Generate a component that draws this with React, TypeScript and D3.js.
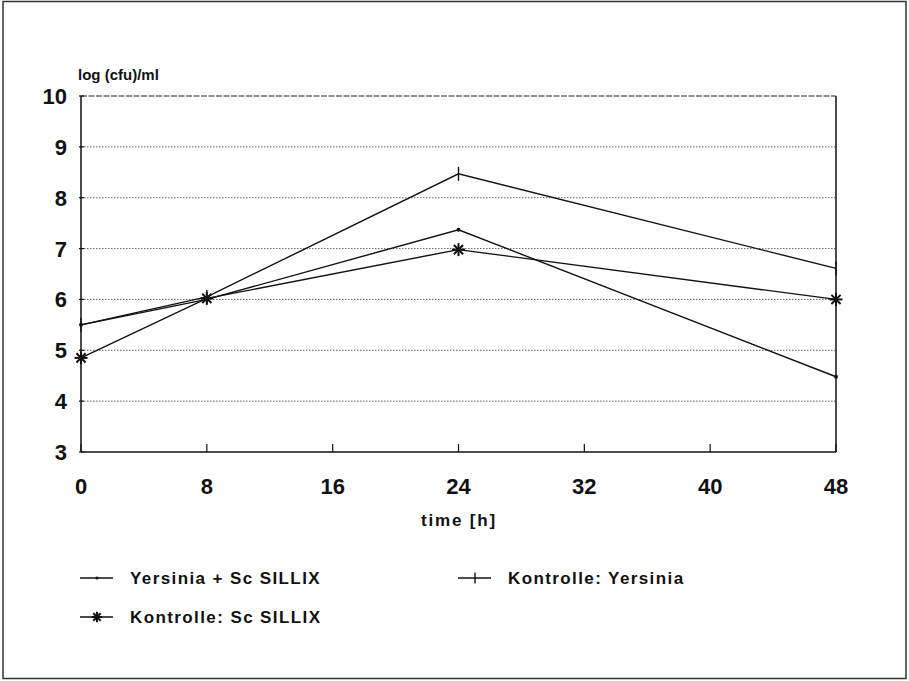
import React from "react";
import * as d3 from "d3";

const hours = [0, 8, 24, 48];
const yersiniaSc = [5.5, 6.0, 7.37, 4.48];
const kontrolleYersinia = [5.5, 6.05, 8.47, 6.61];
const kontrolleSc = [4.85, 6.02, 6.98, 6.0];
const xTicks = [0, 8, 16, 24, 32, 40, 48];
const yTicks = [3, 4, 5, 6, 7, 8, 9, 10];
const seriesNames = ["Yersinia + Sc SILLIX", "Kontrolle: Yersinia", "Kontrolle: Sc SILLIX"];
const markers = ["dot", "plus", "star"];

const W = 909, H = 681;
const FONT = "'Liberation Sans', Arial, sans-serif";

function Marker({ type, x, y, s = 1 }: { type: string; x: number; y: number; s?: number }) {
  if (type === "dot") return <circle cx={x} cy={y} r={2 * s} fill="#111" />;
  if (type === "plus")
    return <line x1={x} x2={x} y1={y - 7 * s} y2={y + 7 * s} stroke="#111" strokeWidth={1.4} />;
  const r = 6.5 * s;
  const pts = [0, 45, 90, 135].map((a) => (a * Math.PI) / 180);
  return (
    <g stroke="#111" strokeWidth={2}>
      {pts.map((a, i) => (
        <line key={i} x1={x - r * Math.cos(a)} y1={y - r * Math.sin(a)} x2={x + r * Math.cos(a)} y2={y + r * Math.sin(a)} />
      ))}
    </g>
  );
}

export default function App() {
  const x = d3.scaleLinear().domain([0, 48]).range([81, 836]);
  const y = d3.scaleLinear().domain([3, 10]).range([452, 96]);
  const data = [yersiniaSc, kontrolleYersinia, kontrolleSc];
  const line = d3
    .line<number>()
    .x((_, i) => x(hours[i]))
    .y((d) => y(d));

  const legendPos = [
    { x: 80, y: 578 },
    { x: 458, y: 578 },
    { x: 80, y: 617 },
  ];

  return (
    <svg width={W} height={H} style={{ position: "absolute", left: 0, top: 0, background: "#fff" }}>
      <rect x={3} y={1.5} width={903} height={677} fill="#fff" stroke="#333" strokeWidth={1.5} />
      {/* grid */}
      {yTicks.slice(1, -1).map((t) => (
        <line key={t} x1={x(0)} x2={x(48)} y1={y(t)} y2={y(t)} stroke="#555" strokeWidth={0.9} strokeDasharray="1.5,1.5" />
      ))}
      {/* frame */}
      <line x1={x(0)} x2={x(48)} y1={y(10)} y2={y(10)} stroke="#222" strokeWidth={1.2} strokeDasharray="6,1.5" />
      <line x1={x(0)} x2={x(0)} y1={y(10)} y2={y(3)} stroke="#111" strokeWidth={1.5} />
      <line x1={x(48)} x2={x(48)} y1={y(10)} y2={y(3)} stroke="#111" strokeWidth={1.5} />
      <line x1={x(0)} x2={x(48)} y1={y(3)} y2={y(3)} stroke="#111" strokeWidth={1.6} />
      {/* ticks */}
      {xTicks.map((t) => (
        <g key={t}>
          <line x1={x(t)} x2={x(t)} y1={y(3)} y2={y(3) - 8} stroke="#111" strokeWidth={1.2} />
          <text x={x(t)} y={494} textAnchor="middle" fontFamily={FONT} fontWeight="bold" fontSize={22} fill="#111">
            {t}
          </text>
        </g>
      ))}
      {yTicks.map((t) => (
        <g key={t}>
          <line x1={x(0) - 2} x2={x(0) + 3} y1={y(t)} y2={y(t)} stroke="#111" strokeWidth={1.2} />
          <text x={67} y={y(t) + 8} textAnchor="end" fontFamily={FONT} fontWeight="bold" fontSize={22} fill="#111">
            {t}
          </text>
        </g>
      ))}
      <text x={78} y={80} fontFamily={FONT} fontWeight="bold" fontSize={15} fill="#111">
        log (cfu)/ml
      </text>
      <text x={459} y={526} textAnchor="middle" fontFamily={FONT} fontWeight="bold" fontSize={17} letterSpacing={1.8} fill="#111">
        time [h]
      </text>
      {/* series */}
      {data.map((d, si) => (
        <g key={si}>
          <path d={line(d) || ""} fill="none" stroke="#111" strokeWidth={1.4} />
          {d.map((v, i) => (
            <Marker key={i} type={markers[si]} x={x(hours[i])} y={y(v)} />
          ))}
        </g>
      ))}
      {/* legend */}
      {seriesNames.map((n, i) => (
        <g key={n}>
          <line x1={legendPos[i].x} x2={legendPos[i].x + 33} y1={legendPos[i].y} y2={legendPos[i].y} stroke="#111" strokeWidth={1.3} />
          <Marker type={markers[i]} x={legendPos[i].x + 17} y={legendPos[i].y} s={0.8} />
          <text x={legendPos[i].x + 50} y={legendPos[i].y + 6} fontFamily={FONT} fontWeight="bold" fontSize={17} letterSpacing={1.4} fill="#111">
            {n}
          </text>
        </g>
      ))}
    </svg>
  );
}
